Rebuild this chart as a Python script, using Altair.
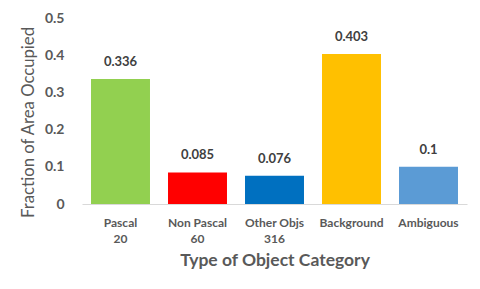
import altair as alt
import pandas as pd

categories = ["Pascal|20", "Non Pascal|60", "Other Objs|316", "Background", "Ambiguous"]
values = [0.336, 0.085, 0.076, 0.403, 0.1]
colors = ["#92D050", "#FF0000", "#0070C0", "#FFC000", "#5B9BD5"]
y_ticks = [0, 0.1, 0.2, 0.3, 0.4, 0.5]

df = pd.DataFrame({"cat": categories, "val": values, "col": colors,
                   "lbl": [f"{v:g}" for v in values]})

FONT = "Lato"
GRAY = "#595959"

base = alt.Chart(df).encode(
    x=alt.X("cat:N", sort=categories,
            scale=alt.Scale(paddingInner=0.234, paddingOuter=0.117),
            axis=alt.Axis(title="Type of Object Category", labelAngle=0,
                          labelExpr="split(datum.label, '|')",
                          labelFont=FONT, labelFontSize=12, labelFontWeight="bold",
                          labelColor=GRAY, labelPadding=13, labelLineHeight=16,
                          ticks=False, domainColor="#D9D9D9", domainWidth=1,
                          titleFont=FONT, titleFontSize=17.5, titleFontWeight="bold",
                          titleColor=GRAY, titlePadding=7)),
    y=alt.Y("val:Q", scale=alt.Scale(domain=[0, 0.5], nice=False),
            axis=alt.Axis(title="Fraction of Area Occupied", values=y_ticks,
                          format="~g", grid=False, domain=False, ticks=False,
                          labelOverlap=False,
                          labelFont=FONT, labelFontSize=14, labelFontWeight="bold",
                          labelColor=GRAY, labelPadding=18,
                          titleFont=FONT, titleFontSize=16.7, titleFontWeight="normal",
                          titleColor=GRAY, titlePadding=7, titleY=104)),
)

bars = base.mark_bar().encode(
    color=alt.Color("col:N", scale=None),
)

text = base.mark_text(dy=-10, baseline="bottom", font=FONT, fontSize=13,
                      fontWeight="bold", color="#404040").encode(
    text="lbl:N")

chart = (bars + text).properties(
    width=385, height=186,
    autosize=alt.AutoSizeParams(type="none"),
    padding={"left": 74, "top": 10, "right": 5, "bottom": 77},
).configure_view(stroke=None)

chart.save("out.html", embed_options={"renderer": "svg", "actions": False})
